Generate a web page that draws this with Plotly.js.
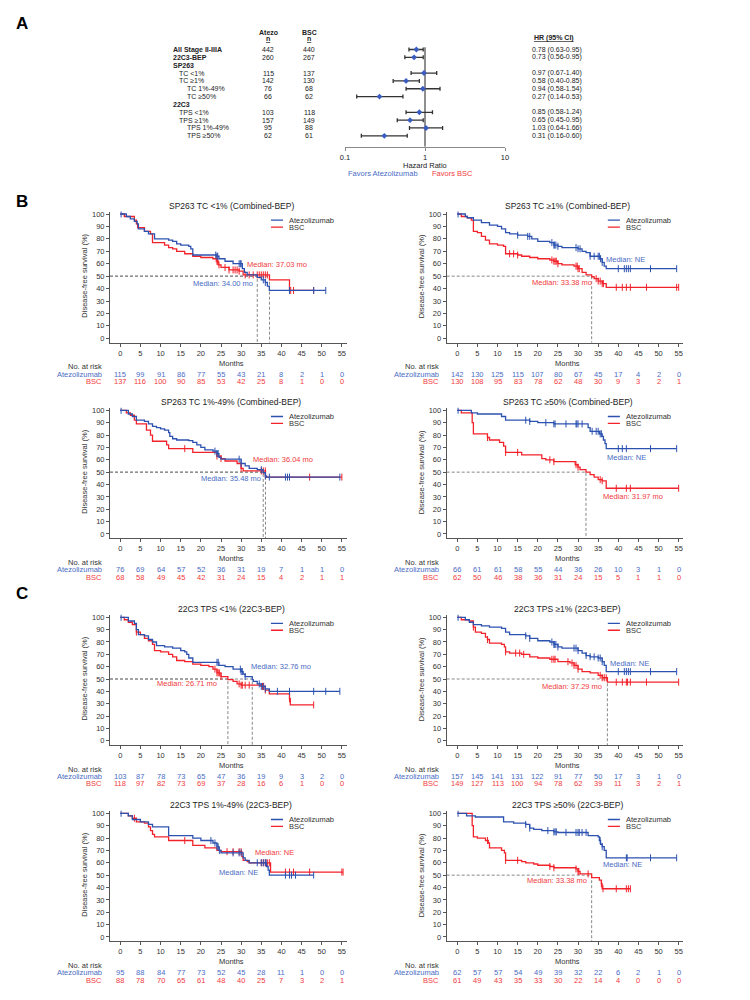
<!DOCTYPE html>
<html lang="en">
<head>
<meta charset="UTF-8">
<title>DFS by PD-L1 subgroup</title>
<script src="https://cdn.plot.ly/plotly-3.0.1.min.js"></script>
<style>
  body { margin: 0; background: #fff; }
  #chart { width: 750px; height: 1000px; }
</style>
</head>
<body>
<div id="chart"></div>
<script>
// ---- Forest plot data (panel A) ----
const forestLabels = ['All Stage II-IIIA', '22C3-BEP', 'SP263', 'TC <1%', 'TC ≥1%', 'TC 1%-49%', 'TC ≥50%',
                      '22C3', 'TPS <1%', 'TPS ≥1%', 'TPS 1%-49%', 'TPS ≥50%'];
const forestLevel = [0, 0, 0, 1, 1, 2, 2, 0, 1, 1, 2, 2];
const forestAtezoN = [442, 260, null, 115, 142, 76, 66, null, 103, 157, 95, 62];
const forestBscN = [440, 267, null, 137, 130, 68, 62, null, 118, 149, 88, 61];
const forestHR = [0.78, 0.73, null, 0.97, 0.58, 0.94, 0.27, null, 0.85, 0.65, 1.03, 0.31];
const forestLo = [0.63, 0.56, null, 0.67, 0.40, 0.58, 0.14, null, 0.58, 0.45, 0.64, 0.16];
const forestHi = [0.95, 0.95, null, 1.40, 0.85, 1.54, 0.53, null, 1.24, 0.95, 1.66, 0.60];

// ---- KM data: step times / survival (%) / censor times ----
const xTicks = [0, 5, 10, 15, 20, 25, 30, 35, 40, 45, 50, 55];

// SP263 TC <1%
const b1AtezoT = [0, 1.5, 2.5, 3.5, 4.2, 4.5, 6, 7, 8.5, 12, 13, 14, 15, 17, 17.5, 18, 24, 24.5, 26, 28, 30.3, 30.8, 31.5, 34, 35, 36, 36.5, 37, 51];
const b1AtezoS = [100, 98, 96, 94, 92, 88, 86, 84, 80, 79, 78, 76, 75, 74, 72, 67, 66, 64, 62, 60, 56, 53, 51, 49, 47, 45, 42, 38.5, 38.5];
const b1AtezoC = [0.2, 23.7, 24, 24.2, 29.5, 29.8, 30, 35.5, 36, 42, 48, 51];
const b1BscT = [0, 1, 3.5, 4, 4.3, 6, 7.5, 8, 11, 12, 13, 14, 16, 18, 20, 23, 24, 24.3, 25, 27, 29.5, 30.5, 37.03, 42, 48];
const b1BscS = [100, 98, 95, 92, 89, 86, 84, 77, 75, 73, 72, 70, 68, 66, 65, 64, 62, 59, 57, 55, 54, 51, 47, 38.5, 38.5];
const b1BscC = [23.8, 24, 24.2, 24.5, 26, 27, 28, 28.5, 29, 29.5, 31, 32, 33, 34, 34.5, 35, 35.5, 36, 36.5, 42.3, 43, 48];
const b1AtezoRisk = [115, 99, 91, 86, 77, 55, 43, 21, 8, 2, 1, 0];
const b1BscRisk = [137, 116, 100, 90, 85, 53, 42, 25, 8, 1, 0, 0];

// SP263 TC >=1%
const b2AtezoT = [0, 2, 2.5, 4, 6, 8, 10, 11, 12, 13, 15, 17.5, 18.5, 20, 23, 24, 25, 26, 30, 31, 32, 33, 35.5, 36, 36.5, 37, 54.5];
const b2AtezoS = [100, 98, 97, 95, 93, 91, 90, 88, 85, 84, 83, 82, 80, 78, 77, 75, 74, 73, 72, 70, 69, 66, 64, 61, 58, 56, 56];
const b2AtezoC = [0.2, 15, 17.5, 18, 23.5, 24, 24.2, 24.5, 25, 29.5, 30, 30.5, 33, 34, 35, 35.3, 35.6, 36, 40, 41.5, 42, 42.5, 43, 48, 54.5];
const b2BscT = [0, 1, 2.5, 3.5, 4, 5, 6, 7, 8, 10, 11.5, 12, 15, 16, 18, 20, 23, 24, 25, 26, 29, 30, 31, 32, 33.38, 34, 35, 36, 37, 55];
const b2BscS = [100, 98, 97, 95, 86, 85, 82, 79, 76, 75, 74, 68, 67, 66, 65, 64, 63, 62, 60, 59, 58, 56, 53, 51, 49.5, 48, 46, 44, 41, 41];
const b2BscC = [13, 14, 15, 23.5, 24, 24.3, 24.6, 25, 29.5, 29.8, 30, 30.3, 34.5, 35, 35.5, 36, 36.3, 39.5, 41, 42, 43, 47, 54.5, 55];
const b2AtezoRisk = [142, 130, 125, 115, 107, 80, 67, 45, 17, 4, 2, 0];
const b2BscRisk = [130, 108, 95, 83, 78, 62, 48, 30, 9, 3, 2, 1];

// SP263 TC 1%-49%
const b3AtezoT = [0, 2, 3, 4, 6, 7, 8, 9, 10, 11, 12, 12.3, 13, 14, 17, 18, 19, 20, 21, 23, 24, 24.5, 25, 30, 31, 32, 34, 35.48, 36, 36.3, 54.5];
const b3AtezoS = [100, 97, 95, 92, 91, 89, 87, 86, 85, 84, 82, 79, 77, 76, 75.5, 74, 72, 70, 68, 67, 65, 62, 60.5, 57, 55, 53, 52, 49.5, 47, 46, 46];
const b3AtezoC = [0.2, 23.5, 24, 24.3, 29.5, 30, 35, 36, 37, 41, 41.5, 42, 54.5];
const b3BscT = [0, 1.5, 2.5, 3.5, 4, 6.5, 7.5, 8, 11.5, 12, 18, 24, 25, 26, 29, 30, 30.5, 36.04, 55];
const b3BscS = [100, 98, 96, 92, 89, 84, 80, 75, 72, 69, 66, 63, 61, 59, 57, 53, 51, 46, 46];
const b3BscC = [16, 24, 25, 30, 35, 35.5, 36, 47, 55];
const b3AtezoRisk = [76, 69, 64, 57, 52, 36, 31, 19, 7, 1, 1, 0];
const b3BscRisk = [68, 58, 49, 45, 42, 31, 24, 15, 4, 2, 1, 1];

// SP263 TC >=50%
const b4AtezoT = [0, 3.5, 5, 11, 12, 18, 20, 24, 32.5, 33, 35.3, 36, 36.3, 36.7, 37, 54.5];
const b4AtezoS = [100, 98, 97, 95, 92, 91, 90, 89, 86, 83, 81, 79, 76, 73, 69, 69];
const b4AtezoC = [0.2, 17, 18, 22, 24, 24.3, 27, 29.5, 29.7, 30, 31, 33.5, 34.5, 35, 35.5, 35.8, 40, 41, 42, 48, 54.5];
const b4BscT = [0, 1, 3.7, 4, 7.5, 8, 10.5, 11.5, 12, 16, 21, 22, 24, 29.3, 30, 30.5, 31.97, 33, 34, 35, 36, 37, 55];
const b4BscS = [100, 98, 90, 81, 78, 76, 74, 71, 66, 64, 61, 60, 58.5, 56, 54, 52, 50, 48, 46, 44, 43, 37, 37];
const b4BscC = [7.5, 12, 15, 23, 24, 29.5, 30, 35.5, 36, 39.5, 42, 43, 55];
const b4AtezoRisk = [66, 61, 61, 58, 55, 44, 36, 26, 10, 3, 1, 0];
const b4BscRisk = [62, 50, 46, 38, 36, 31, 24, 15, 5, 1, 1, 0];

// 22C3 TPS <1%
const c1AtezoT = [0, 2, 3.5, 4, 4.5, 6, 7, 8, 9, 11, 13, 15, 16, 16.5, 17, 18, 24.5, 26, 28, 30, 30.5, 31, 32.76, 33, 34, 35, 36, 37, 54.5];
const c1AtezoS = [100, 97, 95, 90, 86, 85, 82, 80, 77, 76, 75, 73, 72, 70, 67, 63.5, 61, 60, 58, 56, 54, 52, 49.5, 48, 46, 44, 42, 40, 40];
const c1AtezoC = [0.2, 24, 24.3, 29.8, 30, 30.3, 31, 34.5, 35, 35.5, 36, 39, 42, 48, 51, 54.5];
const c1BscT = [0, 1, 2, 3, 4, 5, 6, 7, 8, 8.5, 10, 12, 13, 14, 16, 18, 20, 22, 23, 24, 25, 26.71, 28, 29, 30, 35, 36, 37, 42, 42.2, 48];
const c1BscS = [100, 98, 96, 94, 88, 86, 83, 81, 78, 73, 72, 70, 68, 65, 64, 62, 61, 60, 58, 55, 52, 49.5, 48, 46, 45, 44, 41, 38, 34, 29, 29];
const c1BscC = [4, 23.5, 24, 24.3, 24.6, 25, 29.5, 30, 30.3, 31, 32, 35.3, 35.6, 36, 42, 48];
const c1AtezoRisk = [103, 87, 78, 73, 65, 47, 36, 19, 9, 3, 2, 0];
const c1BscRisk = [118, 97, 82, 73, 69, 37, 28, 16, 6, 1, 0, 0];

// 22C3 TPS >=1%
const c2AtezoT = [0, 2, 3, 4, 6, 8, 11, 12, 13, 17, 18, 20, 23, 24, 25, 26, 30, 31, 32, 33, 35, 36, 36.5, 37, 54.5];
const c2AtezoS = [100, 98, 96, 94, 93, 92, 91, 88, 86, 85, 83, 81, 80, 78, 76, 75, 73, 71, 69, 68, 67, 64, 61, 56, 56];
const c2AtezoC = [0.2, 17, 18, 23.5, 24, 24.2, 24.5, 25, 29, 29.5, 30, 32, 33, 34, 35, 35.5, 36, 40, 41.5, 42, 42.5, 43, 48, 54.5];
const c2BscT = [0, 1, 3, 4, 4.5, 6, 7, 7.5, 8, 11, 11.7, 12, 13, 16, 18, 20, 23, 25, 28, 29, 30, 31, 33, 35, 36, 37.29, 55];
const c2BscS = [100, 98, 97, 92, 88, 87, 84, 82, 79, 78, 76, 72, 71, 70, 68, 67, 66, 64, 63, 61, 58, 56, 55, 53, 51, 47.5, 47.5];
const c2BscC = [4, 7.5, 12, 14.5, 15.5, 16.5, 23.5, 24, 24.3, 27.5, 28.5, 29, 29.5, 30, 35.5, 36, 36.5, 37, 39.5, 41, 42, 42.3, 43, 47, 55];
const c2AtezoRisk = [157, 145, 141, 131, 122, 91, 77, 50, 17, 3, 1, 0];
const c2BscRisk = [149, 127, 113, 100, 94, 78, 62, 39, 11, 3, 2, 1];

// 22C3 TPS 1%-49%
const c3AtezoT = [0, 2, 3, 5, 7, 8, 12, 18, 20, 23, 24, 24.5, 25, 30.5, 31, 32, 36.3, 36.7, 37, 48];
const c3AtezoS = [100, 98, 95, 93, 91, 89, 82, 80, 78, 76, 73, 70, 68, 64, 62, 60, 57, 54, 50, 50];
const c3AtezoC = [0.2, 22.5, 23.5, 24, 24.3, 24.6, 28, 29.5, 30, 34, 35, 35.5, 36, 36.2, 41, 42, 42.5, 43.5, 48];
const c3BscT = [0, 2, 3, 4, 6, 7, 7.5, 8, 8.5, 12, 18, 21, 24, 25, 30.2, 30.5, 31.5, 32, 37.3, 55.3];
const c3BscS = [100, 98, 96, 93, 92, 89, 86, 83, 81, 78, 74, 72, 70, 69, 65, 62, 61, 60, 52.5, 52.5];
const c3BscC = [3.5, 16, 26.5, 28, 29.5, 30, 35, 35.5, 36, 36.5, 37, 41, 42, 43, 47, 55, 55.3];
const c3AtezoRisk = [95, 88, 84, 77, 73, 52, 45, 28, 11, 1, 0, 0];
const c3BscRisk = [88, 78, 70, 65, 61, 48, 40, 25, 7, 3, 2, 1];

// 22C3 TPS >=50%
const c4AtezoT = [0, 2.3, 4.5, 11.5, 14, 17, 18, 19, 21, 24, 25, 32.5, 35, 35.3, 35.6, 36, 36.5, 37, 54.5];
const c4AtezoS = [100, 98, 97, 93, 92, 91, 88, 87, 86, 85, 84.5, 82, 81, 78, 75, 73, 70, 64, 64];
const c4AtezoC = [0.2, 17, 18, 22.5, 24, 24.3, 24.6, 27, 29.5, 30, 30.3, 31, 32, 35.5, 36, 42, 42.2, 48, 54.5];
const c4BscT = [0, 3.7, 4, 5, 7, 7.7, 8, 11, 11.7, 12, 16, 17, 19, 20, 23, 24, 29.5, 30, 30.5, 33.38, 35.3, 35.8, 36, 43];
const c4BscS = [100, 90, 81, 80, 78, 76, 72, 70, 68, 62, 61, 60, 59, 58, 57, 56, 55, 53, 51, 48, 46, 43, 39, 39];
const c4BscC = [7.5, 12, 15, 23, 24, 29.5, 30, 30.2, 32.5, 35.8, 36.2, 39.5, 42, 42.5, 43];
const c4AtezoRisk = [62, 57, 57, 54, 49, 39, 32, 22, 6, 2, 1, 0];
const c4BscRisk = [61, 49, 43, 35, 33, 30, 22, 14, 4, 0, 0, 0];

const panelTitles = ['SP263 TC <1% (Combined-BEP)', 'SP263 TC ≥1% (Combined-BEP)',
                     'SP263 TC 1%-49% (Combined-BEP)', 'SP263 TC ≥50% (Combined-BEP)',
                     '22C3 TPS <1% (22C3-BEP)', '22C3 TPS ≥1% (22C3-BEP)',
                     '22C3 TPS 1%-49% (22C3-BEP)', '22C3 TPS ≥50% (22C3-BEP)'];
// median values (months) that get dashed reference lines
const panelMedians = [[34.00, 37.03], [33.38], [35.48, 36.04], [31.97], [32.76, 26.71], [37.29], [], [33.38]];
// median labels: [text, arm, x, y]
const medianLabels = [
  [['Median: 37.03 mo', 'bsc', 38.8, 59.5], ['Median: 34.00 mo', 'atezo', 25.6, 44.2]],
  [['Median: NE', 'atezo', 41.7, 63], ['Median: 33.38 mo', 'bsc', 25.9, 45]],
  [['Median: 36.04 mo', 'bsc', 40.3, 60.4], ['Median: 35.48 mo', 'atezo', 27.4, 45]],
  [['Median: NE', 'atezo', 42.1, 62], ['Median: 31.97 mo', 'bsc', 43.7, 30.7]],
  [['Median: 32.76 mo', 'atezo', 39.8, 60], ['Median: 26.71 mo', 'bsc', 16.5, 46.5]],
  [['Median: NE', 'atezo', 42.9, 62.7], ['Median: 37.29 mo', 'bsc', 28.4, 44.3]],
  [['Median: NE', 'bsc', 38.4, 68.2], ['Median: NE', 'atezo', 29.3, 52]],
  [['Median: NE', 'atezo', 41.1, 58.8], ['Median: 33.38 mo', 'bsc', 24.7, 45.3]]
];

const panels = [
  [b1AtezoT, b1AtezoS, b1AtezoC, b1BscT, b1BscS, b1BscC, b1AtezoRisk, b1BscRisk],
  [b2AtezoT, b2AtezoS, b2AtezoC, b2BscT, b2BscS, b2BscC, b2AtezoRisk, b2BscRisk],
  [b3AtezoT, b3AtezoS, b3AtezoC, b3BscT, b3BscS, b3BscC, b3AtezoRisk, b3BscRisk],
  [b4AtezoT, b4AtezoS, b4AtezoC, b4BscT, b4BscS, b4BscC, b4AtezoRisk, b4BscRisk],
  [c1AtezoT, c1AtezoS, c1AtezoC, c1BscT, c1BscS, c1BscC, c1AtezoRisk, c1BscRisk],
  [c2AtezoT, c2AtezoS, c2AtezoC, c2BscT, c2BscS, c2BscC, c2AtezoRisk, c2BscRisk],
  [c3AtezoT, c3AtezoS, c3AtezoC, c3BscT, c3BscS, c3BscC, c3AtezoRisk, c3BscRisk],
  [c4AtezoT, c4AtezoS, c4AtezoC, c4BscT, c4BscS, c4BscC, c4AtezoRisk, c4BscRisk]
];

// ---- styling / geometry ----
const W = 750, H = 1000;
const FONT = 'Arial, "Liberation Sans", sans-serif';
const BLUE = '#2c52b0', RED = '#f2222a';
const BLUE_TXT = '#4a6cc4', RED_TXT = '#f23a40';
const AXC = '#555';
const px = v => v / W;
const py = v => 1 - v / H;

// pixel rows: y of 100% and 0%
const rowY100 = [214, 410.3, 617.3, 813.3];
const rowY0 = [338.3, 534, 740.7, 937];
const cols = [
  { left: 110, right: 346.7, r0: -2.55, r1: 56.2 },
  { left: 446.7, right: 682.7, r0: -2.63, r1: 56.0 }
];
const Y_MIN = -3.6, Y_MAX = 102;

function survAt(T, S, t) {
  let s = S[0];
  for (let i = 0; i < T.length; i++) if (T[i] <= t) s = S[i];
  return s;
}

const data = [];
const annotations = [];
const shapes = [];
const layout = {
  width: W, height: H,
  margin: { l: 0, r: 0, t: 0, b: 0 },
  paper_bgcolor: '#fff', plot_bgcolor: '#fff',
  showlegend: false,
  font: { family: FONT, size: 7.5, color: '#222' }
};

// ---------- Panel A: forest plot ----------
layout.xaxis = {
  type: 'log', domain: [px(345), px(505)], range: [-1, 1], anchor: 'y',
  tickvals: [0.1, 1, 10], ticktext: ['0.1', '1', '10'],
  showline: true, linecolor: '#8a8a8a', linewidth: 1.5, ticks: 'outside', ticklen: 3,
  tickcolor: '#8a8a8a', showgrid: false, zeroline: false, tickfont: { size: 7.5, color: '#222' }
};
layout.yaxis = {
  domain: [py(146.8), py(40.1)], range: [12.4, -1.2], anchor: 'x',
  visible: false, showgrid: false, zeroline: false
};
shapes.push({ type: 'line', xref: 'x', yref: 'y', x0: 1, x1: 1, y0: -0.3, y1: 12.4,
  line: { color: '#8f8f8f', width: 2 }, layer: 'below' });

const fRows = [], fX = [], fPlus = [], fMinus = [];
forestLabels.forEach((lab, i) => {
  const lx = [171, 177, 185][forestLevel[i]];
  annotations.push({ xref: 'paper', yref: 'y', x: px(lx), y: i, xanchor: 'left', yanchor: 'middle',
    text: forestLevel[i] === 0 ? '<b>' + lab + '</b>' : lab, showarrow: false, font: { size: 7 } });
  if (forestAtezoN[i] !== null) {
    annotations.push({ xref: 'paper', yref: 'y', x: px(268), y: i, xanchor: 'center', yanchor: 'middle',
      text: String(forestAtezoN[i]), showarrow: false, font: { size: 7 } });
    annotations.push({ xref: 'paper', yref: 'y', x: px(309), y: i, xanchor: 'center', yanchor: 'middle',
      text: String(forestBscN[i]), showarrow: false, font: { size: 7 } });
  }
  if (forestHR[i] !== null) {
    fRows.push(i); fX.push(forestHR[i]);
    fPlus.push(forestHi[i] - forestHR[i]); fMinus.push(forestHR[i] - forestLo[i]);
    annotations.push({ xref: 'paper', yref: 'y', x: px(530), y: i, xanchor: 'left', yanchor: 'middle',
      text: forestHR[i].toFixed(2) + ' (' + forestLo[i].toFixed(2) + '-' + forestHi[i].toFixed(2) + ')',
      showarrow: false, font: { size: 7 } });
  }
});
data.push({
  type: 'scatter', mode: 'markers', xaxis: 'x', yaxis: 'y', x: fX, y: fRows,
  marker: { symbol: 'diamond', size: 4.5, color: '#3a5cc0' },
  error_x: { type: 'data', symmetric: false, array: fPlus, arrayminus: fMinus,
             color: '#333', thickness: 1.3, width: 2 },
  hoverinfo: 'skip'
});
[['<b>Atezo</b>', 268, 32], ['<b><u>n</u></b>', 268, 38.5], ['<b>BSC</b>', 309, 32], ['<b><u>n</u></b>', 309, 38.5],
 ['<b><u>HR (95% CI)</u></b>', 554, 38.3]].forEach(h => {
  annotations.push({ xref: 'paper', yref: 'paper', x: px(h[1]), y: py(h[2]), xanchor: 'center', yanchor: 'middle',
    text: h[0], showarrow: false, font: { size: 7 } });
});
annotations.push({ xref: 'paper', yref: 'paper', x: px(425), y: py(165), text: 'Hazard Ratio',
  showarrow: false, font: { size: 7.5 }, xanchor: 'center', yanchor: 'middle' });
annotations.push({ xref: 'paper', yref: 'paper', x: px(383), y: py(174), text: 'Favors Atezolizumab',
  showarrow: false, font: { size: 7.5, color: BLUE_TXT }, xanchor: 'center', yanchor: 'middle' });
annotations.push({ xref: 'paper', yref: 'paper', x: px(452), y: py(174), text: 'Favors BSC',
  showarrow: false, font: { size: 7.5, color: RED_TXT }, xanchor: 'center', yanchor: 'middle' });

// panel letters
[['A', 22, 23], ['B', 22, 201], ['C', 22, 593]].forEach(l => {
  annotations.push({ xref: 'paper', yref: 'paper', x: px(l[1]), y: py(l[2]), text: '<b>' + l[0] + '</b>',
    showarrow: false, font: { size: 17, color: '#000' }, xanchor: 'center', yanchor: 'middle' });
});

// ---------- Panels B & C: KM curves ----------
panels.forEach((p, k) => {
  const [aT, aS, aC, bT, bS, bC, aRisk, bRisk] = p;
  const col = cols[k % 2];
  const row = Math.floor(k / 2);
  const Y100 = rowY100[row], Y0 = rowY0[row];
  const s = (Y0 - Y100) / 100;
  const top = Y100 + (100 - Y_MAX) * s;
  const bottom = Y0 - Y_MIN * s;
  const n = k + 2;
  const xa = 'x' + n, ya = 'y' + n;

  layout['xaxis' + n] = {
    domain: [px(col.left), px(col.right)], range: [col.r0, col.r1], anchor: ya,
    tickvals: xTicks, showline: true, linecolor: AXC, linewidth: 1, ticks: 'outside', ticklen: 3,
    tickcolor: AXC, showgrid: false, zeroline: false, tickfont: { size: 7.5, color: '#333' }
  };
  layout['yaxis' + n] = {
    domain: [py(bottom), py(top)], range: [Y_MIN, Y_MAX], anchor: xa,
    tickvals: [0, 10, 20, 30, 40, 50, 60, 70, 80, 90, 100], showline: true, linecolor: AXC, linewidth: 1,
    ticks: 'outside', ticklen: 3, tickcolor: AXC, showgrid: false, zeroline: false,
    tickfont: { size: 7.5, color: '#333' }
  };

  // dashed median reference lines
  panelMedians[k].forEach(m => {
    data.push({ type: 'scatter', mode: 'lines', xaxis: xa, yaxis: ya,
      x: [col.r0, m, m], y: [50, 50, Y_MIN],
      line: { color: '#7a7a7a', width: 0.9, dash: '3px,2px' }, hoverinfo: 'skip' });
  });

  // curves (BSC first, Atezolizumab on top)
  [[bT, bS, bC, RED], [aT, aS, aC, BLUE]].forEach(arm => {
    const [T, S, C, color] = arm;
    data.push({ type: 'scatter', mode: 'lines', xaxis: xa, yaxis: ya, x: T, y: S,
      line: { color: color, width: 1.3, shape: 'hv' }, hoverinfo: 'skip' });
    data.push({ type: 'scatter', mode: 'markers', xaxis: xa, yaxis: ya,
      x: C, y: C.map(t => survAt(T, S, t)),
      marker: { symbol: 'line-ns', size: 5, line: { color: color, width: 1 } }, hoverinfo: 'skip' });
  });

  // title
  annotations.push({ xref: xa, yref: 'paper', x: 27.5, y: py(Y100 - 8.3), text: panelTitles[k],
    showarrow: false, font: { size: 8.5, color: '#222' }, xanchor: 'center', yanchor: 'middle' });
  // y title
  annotations.push({ xref: 'paper', yref: ya, x: px(col.left - 25.5), y: 50, text: 'Disease-free survival (%)',
    textangle: -90, showarrow: false, font: { size: 7.5, color: '#333' }, xanchor: 'center', yanchor: 'middle' });
  // x title
  annotations.push({ xref: xa, yref: 'paper', x: 27.5, y: py(Y0 + 24.7), text: 'Months',
    showarrow: false, font: { size: 7.5, color: '#333' }, xanchor: 'center', yanchor: 'middle' });

  // legend
  [['Atezolizumab', BLUE, 95], ['BSC', RED, 89.5]].forEach(lg => {
    shapes.push({ type: 'line', xref: xa, yref: ya, x0: 37.4, x1: 40.4, y0: lg[2], y1: lg[2],
      line: { color: lg[1], width: 1.3 } });
    annotations.push({ xref: xa, yref: ya, x: 41.3, y: lg[2], text: lg[0], showarrow: false,
      font: { size: 7.5, color: '#333' }, xanchor: 'left', yanchor: 'middle' });
  });

  // medians
  medianLabels[k].forEach(ml => {
    annotations.push({ xref: xa, yref: ya, x: ml[2], y: ml[3], text: ml[0], showarrow: false,
      font: { size: 7.5, color: ml[1] === 'atezo' ? BLUE_TXT : RED_TXT }, xanchor: 'center', yanchor: 'middle' });
  });

  // numbers at risk
  [['No. at risk', '#333', 28.5], ['Atezolizumab', BLUE_TXT, 35.7], ['BSC', RED_TXT, 43]].forEach(rl => {
    annotations.push({ xref: 'paper', yref: 'paper', x: px(col.left - 6), y: py(Y0 + rl[2]), text: rl[0],
      showarrow: false, font: { size: 7.5, color: rl[1] }, xanchor: 'right', yanchor: 'middle' });
  });
  xTicks.forEach((t, i) => {
    annotations.push({ xref: xa, yref: 'paper', x: t, y: py(Y0 + 35.7), text: String(aRisk[i]),
      showarrow: false, font: { size: 7.5, color: BLUE_TXT }, xanchor: 'center', yanchor: 'middle' });
    annotations.push({ xref: xa, yref: 'paper', x: t, y: py(Y0 + 43), text: String(bRisk[i]),
      showarrow: false, font: { size: 7.5, color: RED_TXT }, xanchor: 'center', yanchor: 'middle' });
  });
});

layout.annotations = annotations;
layout.shapes = shapes;

Plotly.newPlot('chart', data, layout, { displayModeBar: false, staticPlot: true });
</script>
</body>
</html>
